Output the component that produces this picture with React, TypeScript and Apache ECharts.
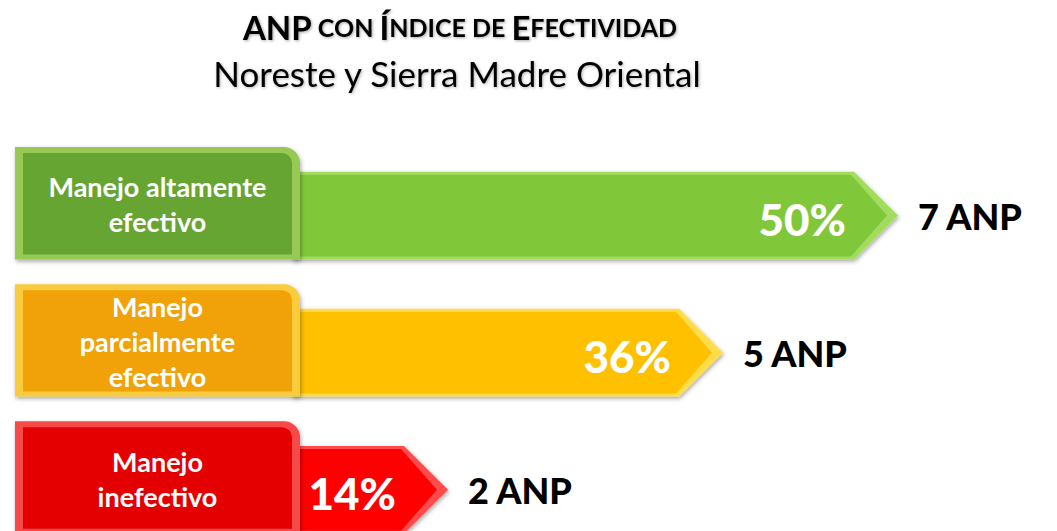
import React, { useEffect, useRef } from "react";
import * as echarts from "echarts";

// ---- data ----
const categories = ["Manejo altamente\nefectivo", "Manejo\nparcialmente\nefectivo", "Manejo\ninefectivo"];
const percentages = [50, 36, 14];
const anpCounts = [7, 5, 2];
const titleLine2 = "Noreste y Sierra Madre Oriental";

// ---- styles ----
const palette = [
  { box: "#66a532", boxLight: "#98c955", bar: "#80c83a", barLight: "#a2dc5e" },
  { box: "#f0a208", boxLight: "#f8cc3e", bar: "#ffc000", barLight: "#ffdc4a" },
  { box: "#e40000", boxLight: "#f84848", bar: "#ff0000", barLight: "#ff4c4c" },
];
const FONT = "Lato, 'Open Sans', sans-serif";
const HEAVY = "'Lato Black', 'Lato Heavy', Lato, sans-serif";

export default function App() {
  const ref = useRef<HTMLDivElement>(null);
  useEffect(() => {
    if (!ref.current) return;
    const chart = echarts.init(ref.current, null, { renderer: "svg" });
    const shadow = { shadowBlur: 4, shadowColor: "rgba(0,0,0,0.35)", shadowOffsetX: 1, shadowOffsetY: 2 };
    const tShadow = { textShadowColor: "rgba(0,0,0,0.35)", textShadowBlur: 3, textShadowOffsetX: 1, textShadowOffsetY: 1 };
    const option: any = {
      animation: false,
      backgroundColor: "#ffffff",
      title: [
        {
          text: "{a|ANP}{b| CON }{a|Í}{b|NDICE DE }{a|E}{b|FECTIVIDAD}",
          left: 455,
          top: 5,
          textAlign: "center",
          textStyle: {
            rich: {
              a: { fontFamily: FONT, fontWeight: "bold", fontSize: 33, color: "#000", ...tShadow },
              b: { fontFamily: FONT, fontWeight: "bold", fontSize: 25, color: "#000", ...tShadow },
            },
          },
        },
        {
          text: titleLine2,
          left: 452,
          top: 50,
          textAlign: "center",
          textStyle: {
            fontFamily: FONT,
            fontWeight: "normal",
            fontSize: 35,
            color: "#000",
            textShadowColor: "rgba(0,0,0,0.3)",
            textShadowBlur: 3,
            textShadowOffsetX: 1,
            textShadowOffsetY: 1,
          },
        },
      ],
      grid: { left: 273, top: 147, right: 34, bottom: 0 },
      xAxis: { type: "value", min: 0, max: 60, show: false },
      yAxis: { type: "value", min: -0.5, max: 2.3, inverse: true, show: false },
      series: [
        {
          type: "custom",
          clip: false,
          data: percentages.map((p, i) => [p, i]),
          encode: { x: 0, y: 1 },
          renderItem: (params: any, api: any) => {
            const i = params.dataIndex;
            const val = api.value(0);
            const idx = api.value(1);
            const end = api.coord([val, idx]);
            const band = api.size([0, 1])[1];
            const cy = end[1];
            const barH = band * 0.64;
            const top = cy - barH / 2;
            const bot = cy + barH / 2;
            const tip = end[0];
            const head = 44;
            const bodyEnd = tip - head;
            const x0 = 292;
            const boxL = 15;
            const boxR = 300;
            const boxTop = cy - band / 2;
            const c = palette[i];
            const children: any[] = [
              {
                type: "polygon",
                shape: { points: [[x0, top], [bodyEnd, top], [tip, cy], [bodyEnd, bot], [x0, bot]] },
                style: { fill: c.barLight, ...shadow },
              },
              {
                type: "polygon",
                shape: { points: [[x0, top + 3], [bodyEnd - 3, top + 3], [tip - 11, cy], [bodyEnd - 3, bot - 3], [x0, bot - 3]] },
                style: { fill: c.bar },
              },
              {
                type: "rect",
                shape: { x: boxL, y: boxTop, width: boxR - boxL, height: bot - boxTop, r: [0, 16, 0, 0] },
                style: { fill: c.boxLight, ...shadow },
              },
              {
                type: "rect",
                shape: { x: boxL + 8, y: boxTop + 6, width: boxR - boxL - 16, height: bot - boxTop - 11, r: [0, 10, 0, 0] },
                style: { fill: c.box },
              },
              {
                type: "text",
                style: {
                  text: categories[i],
                  x: (boxL + boxR) / 2,
                  y: (boxTop + bot) / 2 + 1,
                  align: "center",
                  verticalAlign: "middle",
                  font: `bold 27px ${FONT}`,
                  lineHeight: 35,
                  fill: "#ffffff",
                  shadowBlur: 3,
                  shadowColor: "rgba(0,0,0,0.6)",
                  shadowOffsetX: 1,
                  shadowOffsetY: 1,
                },
              },
              {
                type: "text",
                style: {
                  text: percentages[i] + "%",
                  x: tip - 52,
                  y: cy + 3,
                  align: "right",
                  verticalAlign: "middle",
                  font: `900 44px ${HEAVY}`,
                  fill: "#ffffff",
                  shadowBlur: 3,
                  shadowColor: "rgba(0,0,0,0.6)",
                  shadowOffsetX: 2,
                  shadowOffsetY: 2,
                },
              },
              {
                type: "text",
                style: {
                  text: anpCounts[i] + " ANP",
                  x: tip + 20,
                  y: cy,
                  align: "left",
                  verticalAlign: "middle",
                  font: `900 36px ${HEAVY}`,
                  fill: "#000000",
                  shadowBlur: 4,
                  shadowColor: "rgba(0,0,0,0.6)",
                  shadowOffsetX: 1,
                  shadowOffsetY: 2,
                },
              },
            ];
            return { type: "group", children };
          },
        },
      ],
    };
    chart.setOption(option);
    return () => chart.dispose();
  }, []);
  return <div ref={ref} style={{ position: "absolute", left: 0, top: 0, width: 1057, height: 531 }} />;
}
